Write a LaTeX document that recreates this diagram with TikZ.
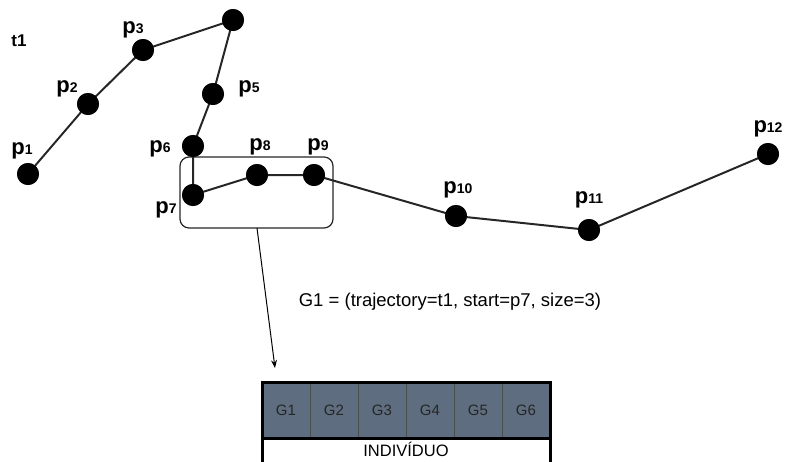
\documentclass[tikz,border=0pt]{standalone}
\usepackage{fontspec}
\setmainfont{Liberation Sans}
\usetikzlibrary{arrows.meta}
\definecolor{slate}{HTML}{5E6D7F}
\newcommand{\plab}[1]{{\bfseries\fontsize{22}{22}\selectfont p\fontsize{14}{14}\selectfont #1}}
\begin{document}
\begin{tikzpicture}[x=1pt,y=-1pt,
  dot/.style={circle,fill=black,minimum size=22pt,inner sep=0pt},
  traj/.style={line width=2pt,black!85},
  lbl/.style={inner sep=0pt,anchor=center},
  cell/.style={draw=black!70,line width=0.6pt,fill=slate,minimum width=48pt,minimum height=56pt,inner sep=0pt,font=\fontsize{15}{15}\selectfont,text=black!85}]
\clip (0,0) rectangle (796,461);
\useasboundingbox (0,0) rectangle (796,461);
% points
\node[dot] (p1) at (28,174) {};
\node[dot] (p2) at (88,104) {};
\node[dot] (p3) at (143,50) {};
\node[dot] (p4) at (233,20) {};
\node[dot] (p5) at (213,94) {};
\node[dot] (p6) at (193,146) {};
\node[dot] (p7) at (193,195) {};
\node[dot] (p8) at (257,175) {};
\node[dot] (p9) at (314,175) {};
\node[dot] (p10) at (456,216) {};
\node[dot] (p11) at (589,230) {};
\node[dot] (p12) at (768,154) {};
% box
\draw[line width=1.2pt,black!85,rounded corners=9pt] (180,157) rectangle (333,228);
\coordinate (bx) at (257,228);
\coordinate (ae) at (275,368);
% trajectory
\draw[traj] (p1.center) -- (p2.center) -- (p3.center) -- (p4.center) -- (p5.center) -- (p6.center) -- (p7.center) -- (p8.center) -- (p9.center) -- (p10.center) -- (p11.center) -- (p12.center);
\foreach \i in {1,...,12} {\node[dot] at (p\i) {};}
% labels
\node[lbl] (t1) at (19,41) {\bfseries\fontsize{17}{17}\selectfont t1};
\node[lbl] (l1) at (22,151) {\plab{1}};
\node[lbl] (l2) at (67,89) {\plab{2}};
\node[lbl] (l3) at (133,30) {\plab{3}};
\node[lbl] (l5) at (249,89) {\plab{5}};
\node[lbl] (l6) at (160,149) {\plab{6}};
\node[lbl] (l7) at (166,210) {\plab{7}};
\node[lbl] (l8) at (260,147) {\plab{8}};
\node[lbl] (l9) at (318,147) {\plab{9}};
\node[lbl] (l10) at (458,190) {\plab{10}};
\node[lbl] (l11) at (589,200) {\plab{11}};
\node[lbl] (l12) at (768,129) {\plab{12}};
% formula
\node[lbl] (g) at (450,302) {\fontsize{18.5}{18.5}\selectfont G1 = (trajectory=t1, start=p7, size=3)};
% table
\foreach \i [count=\k from 0] in {1,...,6} {
  \node[cell] (G\i) at (286+48*\k,410) {G\i};
}
\draw[line width=3pt] (262,470) -- (262,382) -- (550,382) -- (550,470);
\draw[line width=3pt] (262,438) -- (550,438);
\node[lbl] (ind) at (406,449) {\fontsize{16.5}{16.5}\selectfont INDIVÍDUO};
% arrow
\draw[line width=1pt,-{Stealth[length=8pt,width=6pt]}] (bx) -- (ae);
\end{tikzpicture}
\end{document}
